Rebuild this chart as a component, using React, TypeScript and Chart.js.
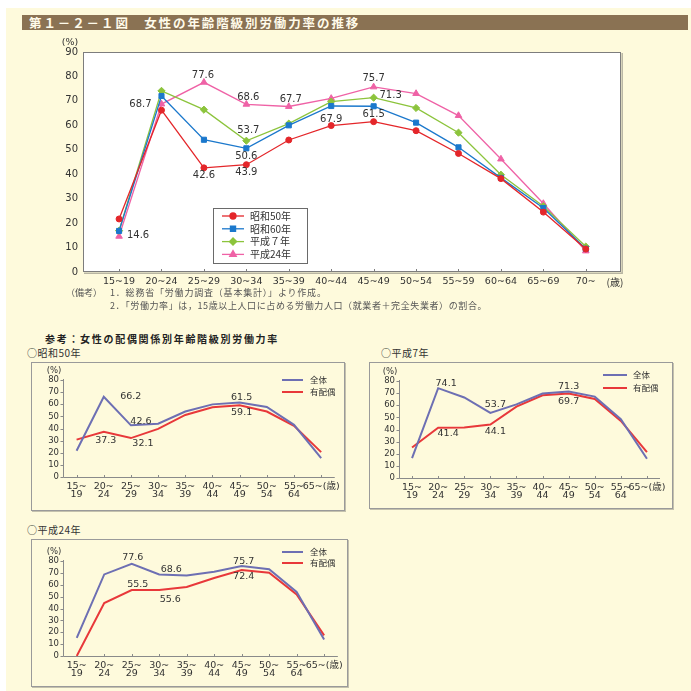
import React, { useEffect, useRef } from "react";
import { Chart, registerables } from "chart.js";
import { drawPoint } from "chart.js/helpers";

Chart.register(...registerables);

const CREAM = "#fefadc";
const NUM_FONT = "'DejaVu Sans', 'Noto Sans CJK JP', sans-serif";
const JP_FONT = "'Noto Sans CJK JP', sans-serif";
const TEXT = "#333333";

// ---------- main chart data ----------
const MAIN_AGES = ["15~19", "20~24", "25~29", "30~34", "35~39", "40~44", "45~49", "50~54", "55~59", "60~64", "65~69", "70~"];
const MAIN_SERIES = ["昭和50年", "昭和60年", "平成７年", "平成24年"];
const S50 = [21.7, 66.2, 42.6, 43.9, 54.0, 59.9, 61.5, 57.8, 48.5, 38.2, 24.5, 9.4];
const S60 = [16.8, 72.0, 54.1, 50.6, 60.0, 67.9, 67.8, 61.1, 51.0, 38.5, 26.2, 9.5];
const H07 = [16.9, 74.1, 66.4, 53.7, 60.7, 69.7, 71.3, 67.1, 57.0, 39.8, 26.9, 10.4];
const H24 = [14.6, 68.7, 77.6, 68.6, 67.7, 71.0, 75.7, 73.0, 64.0, 46.2, 28.0, 8.6];
const MAIN_Y_TICKS = [0, 10, 20, 30, 40, 50, 60, 70, 80, 90];

// ---------- small charts data ----------
const SMALL_AGES: (string | string[])[] = [
  ["15~", "19"], ["20~", "24"], ["25~", "29"], ["30~", "34"], ["35~", "39"],
  ["40~", "44"], ["45~", "49"], ["50~", "54"], ["55~", "64"], "65~(歳)",
];
const SMALL_SERIES = ["全体", "有配偶"];
const S50_ALL = [21.7, 66.2, 42.6, 43.9, 54.0, 59.9, 61.5, 57.8, 43.0, 15.5];
const S50_MARRIED = [30.8, 37.3, 32.1, 39.7, 51.2, 57.5, 59.1, 54.0, 42.2, 20.5];
const H07_ALL = [16.4, 74.1, 66.4, 53.7, 60.7, 69.7, 71.3, 67.1, 48.5, 15.9];
const H07_MARRIED = [25.2, 41.4, 41.6, 44.1, 58.9, 68.2, 69.7, 65.2, 47.1, 21.4];
const H24_ALL = [15.2, 68.7, 77.6, 68.6, 67.7, 71.0, 75.7, 73.0, 53.9, 13.8];
const H24_MARRIED = [0, 44.6, 55.5, 55.6, 58.1, 65.7, 72.4, 70.2, 51.9, 17.4];

const MAIN_STYLES = [
  { color: "#e4262a", pointStyle: "circle", radius: 3 },
  { color: "#1b78cc", pointStyle: "rect", radius: 3.6 },
  { color: "#8cc43c", pointStyle: "rectRot", radius: 3.6 },
  { color: "#ef62a6", pointStyle: "triangle", radius: 3.8 },
];
const SMALL_COLORS = ["#6d6fb3", "#e8383a"];

type Lbl = { s: number; i: number; dx: number; dy: number };

const MAIN_LABELS: Lbl[] = [
  { s: 3, i: 0, dx: 19, dy: -1 },
  { s: 3, i: 1, dx: -21, dy: 0 },
  { s: 3, i: 2, dx: -1, dy: -7 },
  { s: 3, i: 3, dx: 2, dy: -7 },
  { s: 3, i: 4, dx: 2, dy: -7 },
  { s: 2, i: 3, dx: 2, dy: -10 },
  { s: 1, i: 3, dx: 0, dy: 8 },
  { s: 0, i: 2, dx: 0, dy: 8 },
  { s: 0, i: 3, dx: 0, dy: 8 },
  { s: 1, i: 5, dx: 0, dy: 13 },
  { s: 0, i: 6, dx: 0, dy: -7 },
  { s: 2, i: 6, dx: 17, dy: -2 },
  { s: 3, i: 6, dx: 0, dy: -9 },
];

function drawValueLabels(chart: any, labels: Lbl[], font: string) {
  const ctx = chart.ctx;
  ctx.save();
  ctx.font = font;
  ctx.fillStyle = TEXT;
  ctx.textAlign = "center";
  ctx.textBaseline = "middle";
  for (const l of labels) {
    const pt = chart.getDatasetMeta(l.s).data[l.i];
    const v = chart.data.datasets[l.s].data[l.i].y as number;
    ctx.fillText(v.toFixed(1), pt.x + l.dx, pt.y + l.dy);
  }
  ctx.restore();
}

const mainDecor = {
  id: "mainDecor",
  beforeDatasetsDraw(chart: any) {
    const { ctx, chartArea: a } = chart;
    ctx.save();
    ctx.fillStyle = "#ffffff";
    ctx.fillRect(a.left, a.top, a.right - a.left, a.bottom - a.top);
    ctx.strokeStyle = "#b8b5a2";
    ctx.lineWidth = 1.5;
    ctx.beginPath();
    ctx.moveTo(a.right + 1.2, a.top + 1);
    ctx.lineTo(a.right + 1.2, a.bottom + 1.2);
    ctx.lineTo(a.left + 1, a.bottom + 1.2);
    ctx.stroke();
    ctx.strokeStyle = "#7d7d7d";
    ctx.lineWidth = 1;
    ctx.strokeRect(a.left + 0.5, a.top + 0.5, a.right - a.left - 1, a.bottom - a.top - 1);
    const xs = chart.scales.x;
    ctx.beginPath();
    MAIN_AGES.forEach((_, i) => {
      const x = Math.round(xs.getPixelForValue(i)) + 0.5;
      ctx.moveTo(x, a.bottom);
      ctx.lineTo(x, a.bottom - 3);
    });
    ctx.stroke();
    ctx.restore();
  },
  afterDraw(chart: any) {
    const { ctx, chartArea: a } = chart;
    drawValueLabels(chart, MAIN_LABELS, `10px ${NUM_FONT}`);
    ctx.save();
    // units
    ctx.fillStyle = TEXT;
    ctx.textAlign = "center";
    ctx.textBaseline = "middle";
    ctx.font = `9.5px ${NUM_FONT}`;
    ctx.fillText("(%)", a.left - 13, a.top - 9);
    ctx.font = `10px ${JP_FONT}`;
    ctx.fillText("(歳)", a.right - 6, a.bottom + 10);
    // legend
    const lx = 183, ly = 172, lw = 94, lh = 55;
    ctx.fillStyle = "#ffffff";
    ctx.fillRect(lx, ly, lw, lh);
    ctx.strokeStyle = "#6a6a6a";
    ctx.lineWidth = 1;
    ctx.strokeRect(lx + 0.5, ly + 0.5, lw, lh);
    MAIN_SERIES.forEach((name, k) => {
      const st = MAIN_STYLES[k];
      const y = ly + 8 + k * 12.8;
      ctx.strokeStyle = st.color;
      ctx.fillStyle = st.color;
      ctx.lineWidth = 1.3;
      ctx.beginPath();
      ctx.moveTo(lx + 9, y);
      ctx.lineTo(lx + 31, y);
      ctx.stroke();
      drawPoint(ctx, { pointStyle: st.pointStyle as any, radius: st.radius, rotation: 0, borderWidth: 1 } as any, lx + 20, y);
      ctx.fillStyle = TEXT;
      ctx.font = `10px ${JP_FONT}`;
      ctx.textAlign = "left";
      ctx.textBaseline = "middle";
      ctx.fillText(name, lx + 37, y);
    });
    ctx.restore();
  },
};

function MainChart() {
  const ref = useRef<HTMLCanvasElement>(null);
  useEffect(() => {
    const values = [S50, S60, H07, H24];
    const chart = new Chart(ref.current as HTMLCanvasElement, {
      type: "line",
      data: {
        datasets: values.map((vals, k) => ({
          label: MAIN_SERIES[k],
          data: vals.map((y, i) => ({ x: i, y })),
          borderColor: MAIN_STYLES[k].color,
          backgroundColor: MAIN_STYLES[k].color,
          pointBackgroundColor: MAIN_STYLES[k].color,
          pointBorderColor: MAIN_STYLES[k].color,
          pointStyle: MAIN_STYLES[k].pointStyle as any,
          pointRadius: MAIN_STYLES[k].radius,
          pointBorderWidth: 1,
          borderWidth: 1.3,
          tension: 0,
          fill: false,
        })),
      },
      options: {
        animation: false,
        responsive: false,
        maintainAspectRatio: false,
        layout: { padding: { top: 16, right: 19, left: 0, bottom: 0 } },
        plugins: { legend: { display: false }, tooltip: { enabled: false } },
        scales: {
          x: {
            type: "linear",
            min: -0.85,
            max: 11.83,
            afterBuildTicks: (s: any) => {
              s.ticks = MAIN_AGES.map((_, i) => ({ value: i }));
            },
            afterFit: (s: any) => {
              s.height = 26;
            },
            ticks: {
              autoSkip: false,
              maxRotation: 0,
              minRotation: 0,
              padding: 4,
              color: TEXT,
              font: { family: NUM_FONT, size: 9.5 },
              callback: (v: any) => MAIN_AGES[v as number],
            },
            grid: { display: false, drawTicks: false },
            border: { display: false },
          },
          y: {
            min: 0,
            max: 90,
            afterBuildTicks: (s: any) => {
              s.ticks = MAIN_Y_TICKS.map((v) => ({ value: v }));
            },
            afterFit: (s: any) => {
              s.width = 53;
            },
            ticks: { autoSkip: false, padding: 5, color: TEXT, font: { family: NUM_FONT, size: 10 } },
            grid: { display: false, drawTicks: false },
            border: { display: false },
          },
        },
      } as any,
      plugins: [mainDecor],
    });
    return () => chart.destroy();
  }, []);
  return (
    <canvas
      ref={ref}
      width={610}
      height={262}
      style={{ position: "absolute", left: 30, top: 36, width: 610, height: 262 }}
    />
  );
}

type SmallCfg = {
  box: { left: number; top: number; w: number; h: number };
  pad: { top: number; right: number; yW: number; xH: number };
  all: number[];
  married: number[];
  labels: Lbl[];
  legend: { x0: number; x1: number; tx: number; y: number; step: number };
};

const SMALL_Y_TICKS = [0, 10, 20, 30, 40, 50, 60, 70, 80];

function SmallChart({ cfg }: { cfg: SmallCfg }) {
  const ref = useRef<HTMLCanvasElement>(null);
  useEffect(() => {
    const decor = {
      id: "smallDecor",
      beforeDatasetsDraw(chart: any) {
        const { ctx, chartArea: a } = chart;
        ctx.save();
        ctx.strokeStyle = "#8a8a8a";
        ctx.lineWidth = 1;
        ctx.beginPath();
        const L = Math.round(a.left) + 0.5;
        const B = Math.round(a.bottom) + 0.5;
        ctx.moveTo(L, a.top - 1);
        ctx.lineTo(L, B);
        ctx.lineTo(a.right, B);
        const ys = chart.scales.y;
        SMALL_Y_TICKS.forEach((v) => {
          const y = Math.round(ys.getPixelForValue(v)) + 0.5;
          ctx.moveTo(L - 3, y);
          ctx.lineTo(L, y);
        });
        const xs = chart.scales.x;
        SMALL_AGES.forEach((_, i) => {
          const x = Math.round(xs.getPixelForValue(i)) + 0.5;
          ctx.moveTo(x, B);
          ctx.lineTo(x, B - 2.5);
        });
        ctx.stroke();
        ctx.restore();
      },
      afterDraw(chart: any) {
        const { ctx, chartArea: a } = chart;
        drawValueLabels(chart, cfg.labels, `9.5px ${NUM_FONT}`);
        ctx.save();
        ctx.fillStyle = TEXT;
        ctx.textAlign = "center";
        ctx.textBaseline = "middle";
        ctx.font = `8.5px ${NUM_FONT}`;
        ctx.fillText("(%)", a.left - 9, a.top - 9);
        const lg = cfg.legend;
        SMALL_SERIES.forEach((name, k) => {
          const y = lg.y + k * lg.step;
          ctx.strokeStyle = SMALL_COLORS[k];
          ctx.lineWidth = 2;
          ctx.beginPath();
          ctx.moveTo(lg.x0, y);
          ctx.lineTo(lg.x1, y);
          ctx.stroke();
          ctx.fillStyle = TEXT;
          ctx.textAlign = "left";
          ctx.font = `8.5px ${JP_FONT}`;
          ctx.fillText(name, lg.tx, y);
        });
        ctx.restore();
      },
    };
    const series = [cfg.all, cfg.married];
    const chart = new Chart(ref.current as HTMLCanvasElement, {
      type: "line",
      data: {
        datasets: series.map((vals, k) => ({
          label: SMALL_SERIES[k],
          data: vals.map((y, i) => ({ x: i, y })),
          borderColor: SMALL_COLORS[k],
          backgroundColor: SMALL_COLORS[k],
          borderWidth: 2,
          pointRadius: 0,
          tension: 0,
          fill: false,
        })),
      },
      options: {
        animation: false,
        responsive: false,
        maintainAspectRatio: false,
        layout: { padding: { top: cfg.pad.top, right: cfg.pad.right, left: 0, bottom: 0 } },
        plugins: { legend: { display: false }, tooltip: { enabled: false } },
        scales: {
          x: {
            type: "linear",
            min: -0.5,
            max: 9.5,
            afterBuildTicks: (s: any) => {
              s.ticks = SMALL_AGES.map((_, i) => ({ value: i }));
            },
            afterFit: (s: any) => {
              s.height = cfg.pad.xH;
            },
            ticks: {
              autoSkip: false,
              maxRotation: 0,
              minRotation: 0,
              padding: 5,
              color: TEXT,
              font: { family: NUM_FONT, size: 9.5, lineHeight: 0.9 },
              callback: (v: any) => SMALL_AGES[v as number],
            },
            grid: { display: false, drawTicks: false },
            border: { display: false },
          },
          y: {
            min: 0,
            max: 80,
            afterBuildTicks: (s: any) => {
              s.ticks = SMALL_Y_TICKS.map((v) => ({ value: v }));
            },
            afterFit: (s: any) => {
              s.width = cfg.pad.yW;
            },
            ticks: { autoSkip: false, padding: 4, color: TEXT, font: { family: NUM_FONT, size: 8.5 } },
            grid: { display: false, drawTicks: false },
            border: { display: false },
          },
        },
      } as any,
      plugins: [decor],
    });
    return () => chart.destroy();
  }, [cfg]);
  const b = cfg.box;
  return (
    <>
      <div
        style={{
          position: "absolute",
          left: b.left,
          top: b.top,
          width: b.w,
          height: b.h,
          boxSizing: "border-box",
          border: "1px solid #9a9a9a",
          boxShadow: "1px 1px 0 #c4c1ad",
        }}
      />
      <canvas
        ref={ref}
        width={b.w}
        height={b.h}
        style={{ position: "absolute", left: b.left, top: b.top, width: b.w, height: b.h }}
      />
    </>
  );
}

const CFG_S50: SmallCfg = {
  box: { left: 31, top: 362, w: 314, h: 149 },
  pad: { top: 18, right: 7, yW: 32, xH: 34 },
  all: S50_ALL,
  married: S50_MARRIED,
  labels: [
    { s: 0, i: 1, dx: 27, dy: 0 },
    { s: 0, i: 2, dx: 10, dy: -4 },
    { s: 1, i: 1, dx: 2, dy: 9 },
    { s: 1, i: 2, dx: 12, dy: 5 },
    { s: 0, i: 6, dx: 2, dy: -5 },
    { s: 1, i: 6, dx: 2, dy: 7 },
  ],
  legend: { x0: 251, x1: 272, tx: 279, y: 18, step: 12 },
};

const CFG_H07: SmallCfg = {
  box: { left: 369, top: 362, w: 304, h: 147 },
  pad: { top: 19, right: 13, yW: 30, xH: 31 },
  all: H07_ALL,
  married: H07_MARRIED,
  labels: [
    { s: 0, i: 1, dx: 8, dy: -5 },
    { s: 0, i: 3, dx: 5, dy: -8 },
    { s: 1, i: 1, dx: 10, dy: 6 },
    { s: 1, i: 3, dx: 5, dy: 7.5 },
    { s: 0, i: 6, dx: 0, dy: -5 },
    { s: 1, i: 6, dx: 0, dy: 8.5 },
  ],
  legend: { x0: 234, x1: 258, tx: 264, y: 13, step: 13 },
};

const CFG_H24: SmallCfg = {
  box: { left: 31, top: 539, w: 317, h: 148 },
  pad: { top: 22, right: 8, yW: 32, xH: 31 },
  all: H24_ALL,
  married: H24_MARRIED,
  labels: [
    { s: 0, i: 2, dx: 1, dy: -6 },
    { s: 0, i: 3, dx: 12, dy: -5 },
    { s: 1, i: 2, dx: 6, dy: -6 },
    { s: 1, i: 3, dx: 11, dy: 10 },
    { s: 0, i: 6, dx: 2, dy: -5 },
    { s: 1, i: 6, dx: 2, dy: 7 },
  ],
  legend: { x0: 251, x1: 272, tx: 279, y: 13, step: 11 },
};

const txt = (left: number, top: number, extra: React.CSSProperties = {}): React.CSSProperties => ({
  position: "absolute",
  left,
  top,
  whiteSpace: "nowrap",
  fontFamily: JP_FONT,
  color: TEXT,
  ...extra,
});

export default function App() {
  return (
    <div
      style={{
        position: "absolute",
        left: 0,
        top: 0,
        width: 691,
        height: 691,
        background: "#ffffff",
        overflow: "hidden",
        fontFamily: JP_FONT,
      }}
    >
      <div style={{ position: "absolute", left: 6, top: 8, width: 685, height: 683, background: CREAM }} />
      <div
        style={{
          position: "absolute",
          left: 22,
          top: 15,
          width: 666,
          height: 15,
          background: "#8a7253",
          color: "#fffbea",
          fontFamily: JP_FONT,
          fontWeight: 700,
          fontSize: 12.5,
          lineHeight: "15px",
          paddingLeft: 7,
          boxSizing: "border-box",
          letterSpacing: 1.9,
          whiteSpace: "nowrap",
        }}
      >
        第１－２－１図　女性の年齢階級別労働力率の推移
      </div>
      <MainChart />
      <div style={txt(66, 287, { fontSize: 9, lineHeight: "12px", color: "#555" })}>（備考）</div>
      <div style={txt(110, 287, { fontSize: 9, lineHeight: "12px", color: "#555", letterSpacing: 0.8 })}>
        1．総務省「労働力調査（基本集計）」より作成。
      </div>
      <div style={txt(110, 300, { fontSize: 9, lineHeight: "12px", color: "#555", letterSpacing: 0.6 })}>
        2．「労働力率」は，15歳以上人口に占める労働力人口（就業者＋完全失業者）の割合。
      </div>
      <div style={txt(45, 333, { fontSize: 10, lineHeight: "12px", fontWeight: 700, letterSpacing: 1.7, color: "#222" })}>
        参考：女性の配偶関係別年齢階級別労働力率
      </div>
      <div style={txt(27, 347, { fontSize: 10, lineHeight: "12px", letterSpacing: 0.5 })}>○昭和50年</div>
      <div style={txt(381, 347, { fontSize: 10, lineHeight: "12px", letterSpacing: 0.5 })}>○平成7年</div>
      <div style={txt(27, 524, { fontSize: 10, lineHeight: "12px", letterSpacing: 0.5 })}>○平成24年</div>
      <SmallChart cfg={CFG_S50} />
      <SmallChart cfg={CFG_H07} />
      <SmallChart cfg={CFG_H24} />
    </div>
  );
}
